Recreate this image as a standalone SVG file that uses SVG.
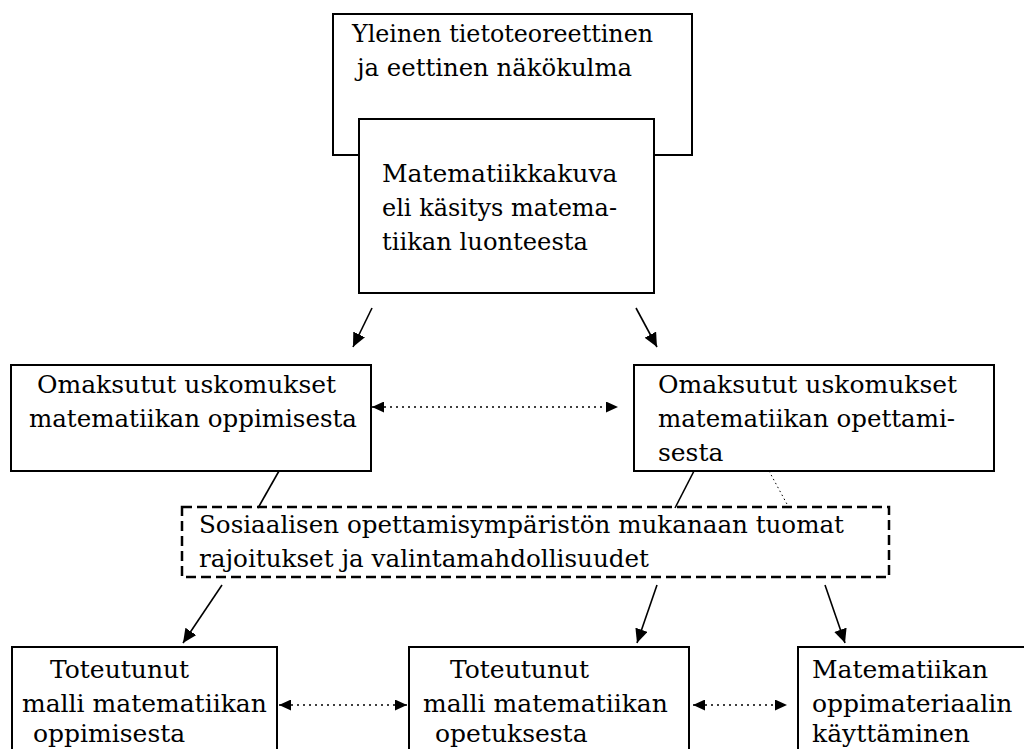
<svg xmlns="http://www.w3.org/2000/svg" width="1024" height="749" viewBox="0 0 1024 749">
<style>
.box{fill:#fff;stroke:#000;stroke-width:2}
.dash{fill:#fff;stroke:#000;stroke-width:2.5;stroke-dasharray:10 5}
.t{font-family:"DejaVu Serif","Liberation Serif",serif;font-size:25px;fill:#000}
.arr{stroke:#000;stroke-width:1.6;fill:none}
.dot{stroke:#000;stroke-width:1.6;stroke-dasharray:2 4;fill:none}
.thin{stroke:#000;stroke-width:1;stroke-dasharray:1.5 3;fill:none}
</style>
<defs>
<marker id="ah" markerUnits="userSpaceOnUse" markerWidth="15" markerHeight="13" refX="14" refY="6.5" orient="auto">
<path d="M0,0 L14,6.5 L0,13 Z" fill="#000"/>
</marker>
<marker id="ahs" markerUnits="userSpaceOnUse" markerWidth="13" markerHeight="11" refX="12" refY="5.5" orient="auto-start-reverse">
<path d="M0,0 L12,5.5 L0,11 Z" fill="#000"/>
</marker>
</defs>
<rect width="1024" height="749" fill="#fff"/>
<g id="n1">
<rect class="box" x="333" y="14" width="359" height="141"/>
<text class="t" x="352" y="42" textLength="301" lengthAdjust="spacingAndGlyphs">Yleinen tietoteoreettinen</text>
<text class="t" x="357" y="76" textLength="275" lengthAdjust="spacingAndGlyphs">ja eettinen näkökulma</text>
</g>
<g id="n2">
<rect class="box" x="359" y="119" width="295" height="174"/>
<text class="t" x="382" y="182">Matematiikkakuva</text>
<text class="t" x="382" y="216" textLength="235" lengthAdjust="spacingAndGlyphs">eli käsitys matema-</text>
<text class="t" x="382" y="250" textLength="206" lengthAdjust="spacingAndGlyphs">tiikan luonteesta</text>
</g>
<g id="n3">
<rect class="box" x="11" y="365" width="360" height="106"/>
<text class="t" x="37" y="393">Omaksutut uskomukset</text>
<text class="t" x="29" y="427" textLength="328" lengthAdjust="spacingAndGlyphs">matematiikan oppimisesta</text>
</g>
<g id="n4">
<rect class="box" x="634" y="365" width="360" height="106"/>
<text class="t" x="658" y="393">Omaksutut uskomukset</text>
<text class="t" x="658" y="427" textLength="297" lengthAdjust="spacingAndGlyphs">matematiikan opettami-</text>
<text class="t" x="658" y="461">sesta</text>
</g>
<g id="n5">
<rect class="dash" x="182" y="507" width="707" height="70"/>
<text class="t" x="199" y="533" textLength="645" lengthAdjust="spacingAndGlyphs">Sosiaalisen opettamisympäristön mukanaan tuomat</text>
<text class="t" x="199" y="567" textLength="450" lengthAdjust="spacingAndGlyphs">rajoitukset ja valintamahdollisuudet</text>
</g>
<g id="n6">
<rect class="box" x="12" y="647" width="265" height="120"/>
<text class="t" x="50" y="678">Toteutunut</text>
<text class="t" x="22" y="712">malli matematiikan</text>
<text class="t" x="33" y="742">oppimisesta</text>
</g>
<g id="n7">
<rect class="box" x="409" y="647" width="280" height="120"/>
<text class="t" x="450" y="678">Toteutunut</text>
<text class="t" x="423" y="712">malli matematiikan</text>
<text class="t" x="435" y="742">opetuksesta</text>
</g>
<g id="n8">
<rect class="box" x="798" y="647" width="240" height="120"/>
<text class="t" x="812" y="678">Matematiikan</text>
<text class="t" x="812" y="712">oppimateriaalin</text>
<text class="t" x="812" y="742">käyttäminen</text>
</g>
<g id="connectors">
<line class="arr" x1="372" y1="308" x2="353" y2="347" marker-end="url(#ah)"/>
<line class="arr" x1="636" y1="308" x2="657" y2="347" marker-end="url(#ah)"/>
<line class="dot" x1="372" y1="407" x2="618" y2="407" marker-start="url(#ahs)" marker-end="url(#ahs)"/>
<line class="arr" x1="279" y1="471" x2="258" y2="508"/>
<line class="arr" x1="694" y1="471" x2="675" y2="508"/>
<line class="thin" x1="769" y1="471" x2="788" y2="506"/>
<line class="arr" x1="222" y1="585" x2="183" y2="643" marker-end="url(#ah)"/>
<line class="arr" x1="657" y1="585" x2="637" y2="643" marker-end="url(#ah)"/>
<line class="arr" x1="825" y1="585" x2="845" y2="643" marker-end="url(#ah)"/>
<line class="dot" x1="279" y1="705" x2="407" y2="705" marker-start="url(#ahs)" marker-end="url(#ahs)"/>
<line class="dot" x1="693" y1="705" x2="787" y2="705" marker-start="url(#ahs)" marker-end="url(#ahs)"/>
</g>
</svg>
